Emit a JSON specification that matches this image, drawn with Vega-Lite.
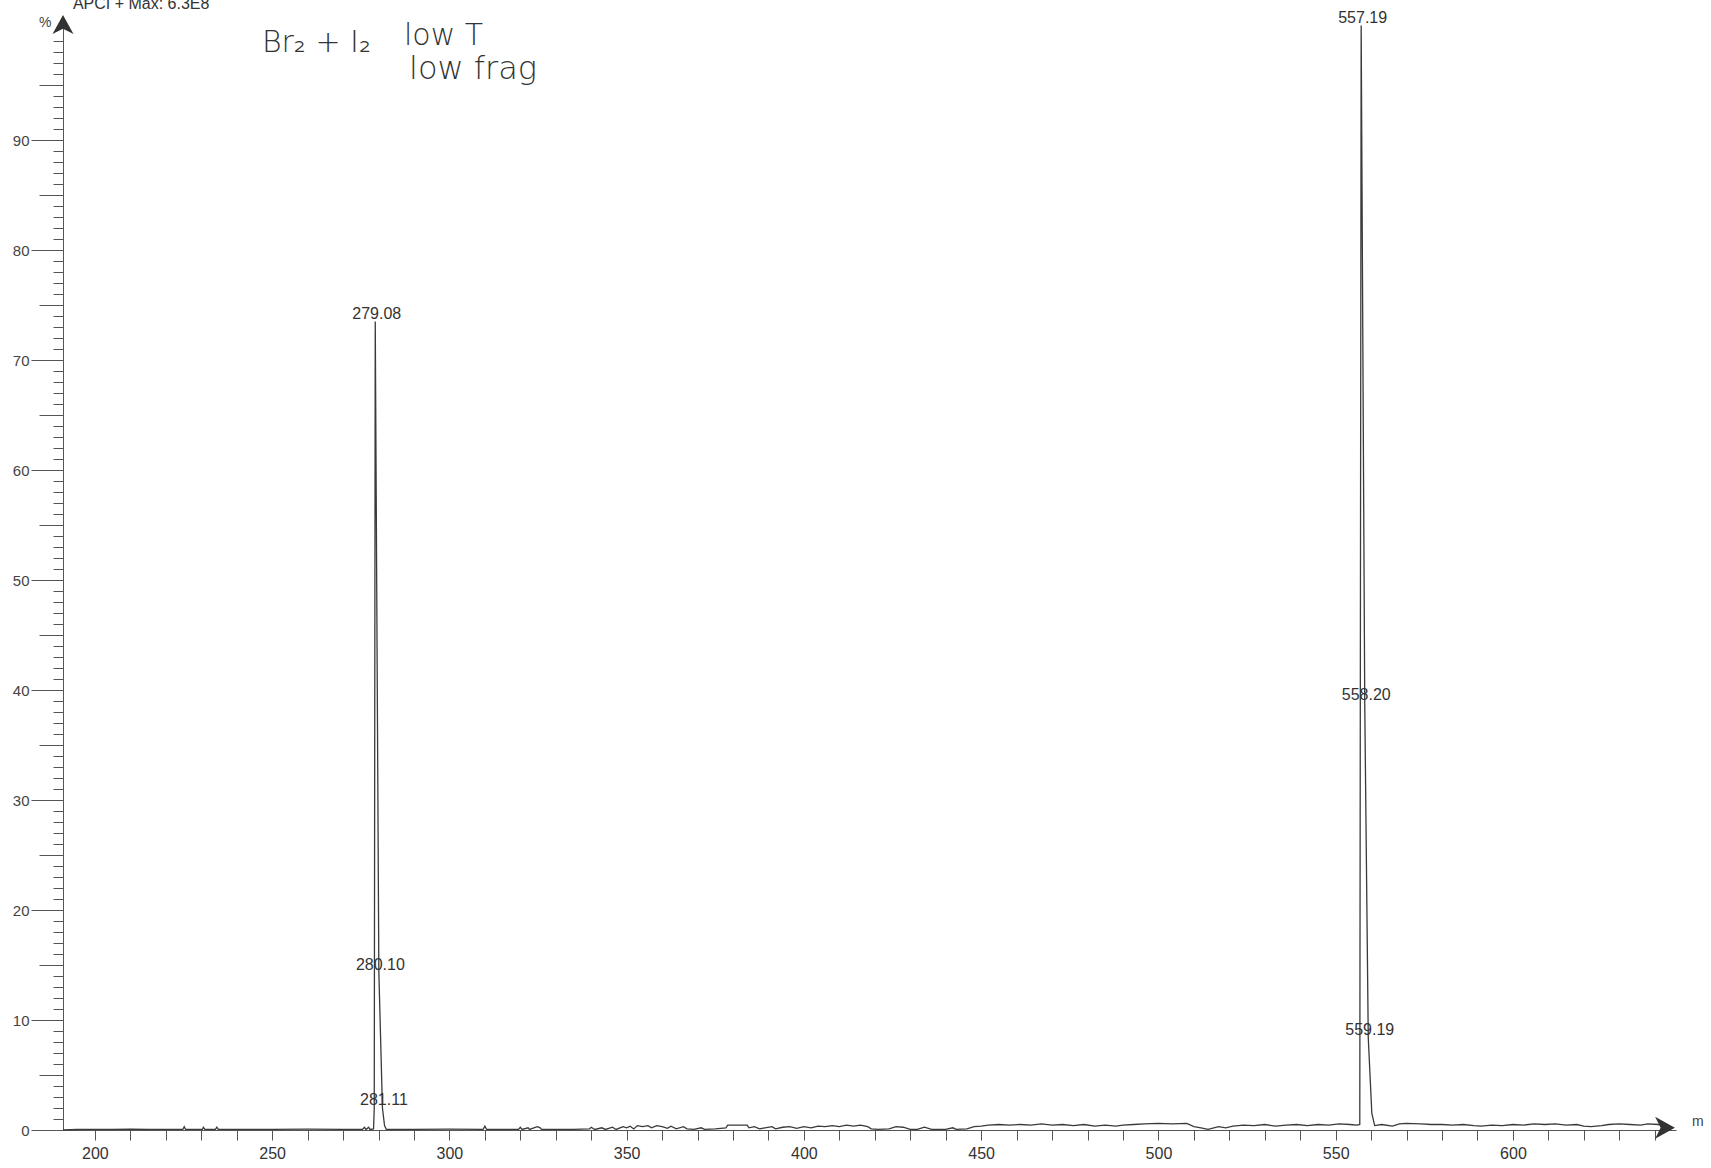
{
  "$schema": "https://vega.github.io/schema/vega-lite/v6.json",
  "width": 1613,
  "height": 1111,
  "autosize": {"type": "none"},
  "padding": {"left": 63, "top": 19, "right": 35, "bottom": 38},
  "background": "white",
  "config": {"view": {"stroke": null}, "font": "Liberation Sans"},
  "datasets": {
    "spectrum": [
      {"mz": 191, "pct": 0}, {"mz": 195, "pct": 0.05}, {"mz": 200, "pct": 0.05}, {"mz": 205, "pct": 0.05},
      {"mz": 210, "pct": 0.08}, {"mz": 215, "pct": 0.05}, {"mz": 220, "pct": 0.05}, {"mz": 224.8, "pct": 0.05},
      {"mz": 225.2, "pct": 0.3}, {"mz": 225.6, "pct": 0.05}, {"mz": 230.3, "pct": 0.05}, {"mz": 230.6, "pct": 0.25},
      {"mz": 231, "pct": 0.05}, {"mz": 234, "pct": 0.05}, {"mz": 234.4, "pct": 0.25}, {"mz": 234.8, "pct": 0.05},
      {"mz": 240, "pct": 0.05}, {"mz": 250, "pct": 0.05}, {"mz": 260, "pct": 0.08}, {"mz": 270, "pct": 0.05},
      {"mz": 275.5, "pct": 0.05}, {"mz": 276, "pct": 0.25}, {"mz": 276.5, "pct": 0.05}, {"mz": 277.2, "pct": 0.25},
      {"mz": 277.6, "pct": 0.05}, {"mz": 278.6, "pct": 0.1}, {"mz": 278.8, "pct": 2},
      {"mz": 279.08, "pct": 73.5}, {"mz": 280.1, "pct": 14.3}, {"mz": 281.11, "pct": 2.0},
      {"mz": 281.7, "pct": 0.4}, {"mz": 282.2, "pct": 0.05}, {"mz": 290, "pct": 0.05}, {"mz": 300, "pct": 0.08},
      {"mz": 309.5, "pct": 0.05}, {"mz": 310, "pct": 0.35}, {"mz": 310.5, "pct": 0.05}, {"mz": 319.5, "pct": 0.05},
      {"mz": 320, "pct": 0.25}, {"mz": 320.5, "pct": 0.05}, {"mz": 322.2, "pct": 0.2}, {"mz": 322.6, "pct": 0.05},
      {"mz": 324.8, "pct": 0.3}, {"mz": 325.6, "pct": 0.2}, {"mz": 326, "pct": 0.05}, {"mz": 335, "pct": 0.05},
      {"mz": 339.5, "pct": 0.1}, {"mz": 340, "pct": 0.25}, {"mz": 341, "pct": 0.05}, {"mz": 343, "pct": 0.2},
      {"mz": 344, "pct": 0.05}, {"mz": 346, "pct": 0.25}, {"mz": 347, "pct": 0.05}, {"mz": 349, "pct": 0.3},
      {"mz": 350, "pct": 0.2}, {"mz": 351, "pct": 0.35}, {"mz": 352, "pct": 0.1}, {"mz": 353, "pct": 0.4},
      {"mz": 354.5, "pct": 0.3}, {"mz": 356, "pct": 0.4}, {"mz": 357, "pct": 0.2}, {"mz": 358.5, "pct": 0.4},
      {"mz": 360, "pct": 0.3}, {"mz": 361.5, "pct": 0.15}, {"mz": 362.5, "pct": 0.35}, {"mz": 364, "pct": 0.1},
      {"mz": 366, "pct": 0.3}, {"mz": 367, "pct": 0.1}, {"mz": 369, "pct": 0.05}, {"mz": 371, "pct": 0.2},
      {"mz": 372, "pct": 0.05}, {"mz": 375, "pct": 0.1}, {"mz": 378, "pct": 0.2}, {"mz": 378.5, "pct": 0.45},
      {"mz": 384, "pct": 0.45}, {"mz": 384.5, "pct": 0.2}, {"mz": 386, "pct": 0.3}, {"mz": 387.5, "pct": 0.1},
      {"mz": 389, "pct": 0.2}, {"mz": 391, "pct": 0.3}, {"mz": 392, "pct": 0.1}, {"mz": 394, "pct": 0.25},
      {"mz": 396, "pct": 0.3}, {"mz": 398, "pct": 0.15}, {"mz": 400, "pct": 0.3}, {"mz": 402, "pct": 0.2},
      {"mz": 404, "pct": 0.35}, {"mz": 406, "pct": 0.3}, {"mz": 408, "pct": 0.4}, {"mz": 410, "pct": 0.3},
      {"mz": 412, "pct": 0.45}, {"mz": 414, "pct": 0.35}, {"mz": 416, "pct": 0.45}, {"mz": 418, "pct": 0.3},
      {"mz": 419, "pct": 0.1}, {"mz": 421, "pct": 0.05}, {"mz": 424, "pct": 0.1}, {"mz": 426, "pct": 0.3},
      {"mz": 428, "pct": 0.25}, {"mz": 430, "pct": 0.05}, {"mz": 432, "pct": 0.05}, {"mz": 434, "pct": 0.25},
      {"mz": 436, "pct": 0.05}, {"mz": 440, "pct": 0.05}, {"mz": 442, "pct": 0.2}, {"mz": 443, "pct": 0.05},
      {"mz": 446, "pct": 0.1}, {"mz": 448, "pct": 0.3}, {"mz": 450, "pct": 0.35}, {"mz": 452, "pct": 0.45},
      {"mz": 455, "pct": 0.5}, {"mz": 458, "pct": 0.45}, {"mz": 461, "pct": 0.5}, {"mz": 464, "pct": 0.45},
      {"mz": 467, "pct": 0.55}, {"mz": 470, "pct": 0.45}, {"mz": 473, "pct": 0.5}, {"mz": 476, "pct": 0.4},
      {"mz": 479, "pct": 0.5}, {"mz": 482, "pct": 0.35}, {"mz": 485, "pct": 0.45}, {"mz": 488, "pct": 0.35},
      {"mz": 490, "pct": 0.45}, {"mz": 493, "pct": 0.5}, {"mz": 496, "pct": 0.55}, {"mz": 500, "pct": 0.6},
      {"mz": 504, "pct": 0.55}, {"mz": 508, "pct": 0.6}, {"mz": 510, "pct": 0.3}, {"mz": 512, "pct": 0.2},
      {"mz": 514, "pct": 0.05}, {"mz": 517, "pct": 0.3}, {"mz": 519, "pct": 0.2}, {"mz": 521, "pct": 0.35},
      {"mz": 524, "pct": 0.45}, {"mz": 527, "pct": 0.4}, {"mz": 530, "pct": 0.5}, {"mz": 533, "pct": 0.35},
      {"mz": 536, "pct": 0.45}, {"mz": 539, "pct": 0.5}, {"mz": 542, "pct": 0.4}, {"mz": 545, "pct": 0.5},
      {"mz": 548, "pct": 0.45}, {"mz": 551, "pct": 0.55}, {"mz": 554, "pct": 0.5}, {"mz": 556, "pct": 0.45},
      {"mz": 556.8, "pct": 0.5}, {"mz": 557.19, "pct": 100.4}, {"mz": 558.2, "pct": 38.8}, {"mz": 559.19, "pct": 8.4},
      {"mz": 560.2, "pct": 1.5}, {"mz": 561, "pct": 0.4}, {"mz": 563, "pct": 0.5}, {"mz": 566, "pct": 0.35},
      {"mz": 568, "pct": 0.55}, {"mz": 570, "pct": 0.6}, {"mz": 574, "pct": 0.55}, {"mz": 577, "pct": 0.5},
      {"mz": 580, "pct": 0.5}, {"mz": 583, "pct": 0.45}, {"mz": 586, "pct": 0.5}, {"mz": 589, "pct": 0.4},
      {"mz": 591, "pct": 0.35}, {"mz": 594, "pct": 0.45}, {"mz": 597, "pct": 0.4}, {"mz": 600, "pct": 0.5},
      {"mz": 603, "pct": 0.45}, {"mz": 606, "pct": 0.55}, {"mz": 609, "pct": 0.5}, {"mz": 612, "pct": 0.55},
      {"mz": 615, "pct": 0.45}, {"mz": 618, "pct": 0.5}, {"mz": 620, "pct": 0.35}, {"mz": 622, "pct": 0.3},
      {"mz": 625, "pct": 0.4}, {"mz": 627, "pct": 0.5}, {"mz": 630, "pct": 0.55}, {"mz": 633, "pct": 0.5},
      {"mz": 636, "pct": 0.45}, {"mz": 638, "pct": 0.55}, {"mz": 641, "pct": 0.5}, {"mz": 643, "pct": 0.45}
    ],
    "peaks": [
      {"mz": 279.08, "pct": 73.5, "label": "279.08"},
      {"mz": 280.1, "pct": 14.3, "label": "280.10"},
      {"mz": 281.11, "pct": 2.0, "label": "281.11"},
      {"mz": 557.19, "pct": 100.4, "label": "557.19"},
      {"mz": 558.2, "pct": 38.8, "label": "558.20"},
      {"mz": 559.19, "pct": 8.4, "label": "559.19"}
    ]
  },
  "layer": [
    {
      "data": {"name": "spectrum"},
      "mark": {"type": "line", "color": "#3a3a3a", "strokeWidth": 1.3},
      "encoding": {
        "x": {
          "field": "mz", "type": "quantitative",
          "scale": {"domain": [191, 646], "nice": false, "zero": false},
          "axis": {
            "values": [200, 210, 220, 230, 240, 250, 260, 270, 280, 290, 300, 310, 320, 330, 340, 350, 360, 370, 380, 390, 400, 410, 420, 430, 440, 450, 460, 470, 480, 490, 500, 510, 520, 530, 540, 550, 560, 570, 580, 590, 600, 610, 620, 630, 640],
            "tickCount": 200, "format": "d",
            "tickSize": 10, "tickColor": "#555", "domainColor": "#555",
            "labelExpr": "datum.value % 50 === 0 ? datum.label : ''",
            "labelFontSize": 16, "labelColor": "#333", "labelPadding": 5,
            "labelOverlap": false, "labelFlush": false, "grid": false, "title": null
          }
        },
        "y": {
          "field": "pct", "type": "quantitative",
          "scale": {"domain": [0, 101], "nice": false, "zero": true},
          "axis": {
            "values": [0,1,2,3,4,5,6,7,8,9,10,11,12,13,14,15,16,17,18,19,20,21,22,23,24,25,26,27,28,29,30,31,32,33,34,35,36,37,38,39,40,41,42,43,44,45,46,47,48,49,50,51,52,53,54,55,56,57,58,59,60,61,62,63,64,65,66,67,68,69,70,71,72,73,74,75,76,77,78,79,80,81,82,83,84,85,86,87,88,89,90,91,92,93,94,95,96,97,98,99],
            "tickCount": 300, "format": "d",
            "tickSize": {"condition": [{"test": "datum.value % 10 === 0", "value": 32}, {"test": "datum.value % 5 === 0", "value": 24}], "value": 10},
            "tickColor": "#555", "domainColor": "#555",
            "labelExpr": "datum.value % 10 === 0 ? datum.label : ''",
            "labelFontSize": 15, "labelColor": "#444", "labelPadding": 2,
            "labelOverlap": false, "labelFlush": false, "grid": false, "title": null
          }
        }
      }
    },
    {
      "data": {"name": "peaks"},
      "mark": {"type": "text", "font": "Liberation Sans", "fontSize": 16, "color": "#333", "baseline": "alphabetic", "align": "center", "dy": -3, "dx": 1.5},
      "encoding": {
        "x": {"field": "mz", "type": "quantitative"},
        "y": {"field": "pct", "type": "quantitative"},
        "text": {"field": "label"}
      }
    },
    {
      "data": {"values": [{}]},
      "mark": {"type": "point", "shape": "M0,-0.9L1,0.9L0,0.4L-1,0.9Z", "filled": true, "color": "#333", "opacity": 1, "size": 441},
      "encoding": {
        "x": {"datum": 191, "type": "quantitative"},
        "y": {"datum": 100.5, "type": "quantitative"}
      }
    },
    {
      "data": {"values": [{}]},
      "mark": {"type": "point", "shape": "M0.9,0L-0.9,1L-0.4,0L-0.9,-1Z", "filled": true, "color": "#333", "opacity": 1, "size": 484},
      "encoding": {
        "x": {"datum": 642.9, "type": "quantitative"},
        "y": {"datum": 0.2, "type": "quantitative"}
      }
    },
    {
      "data": {"values": [{}]},
      "mark": {"type": "text", "text": "%", "font": "Liberation Sans", "fontSize": 14, "color": "#444", "align": "center", "baseline": "middle"},
      "encoding": {
        "x": {"datum": 186, "type": "quantitative"},
        "y": {"datum": 100.6, "type": "quantitative"}
      }
    },
    {
      "data": {"values": [{}]},
      "mark": {"type": "text", "text": "m", "font": "Liberation Sans", "fontSize": 14, "color": "#444", "align": "left", "baseline": "alphabetic"},
      "encoding": {
        "x": {"datum": 650.5, "type": "quantitative"},
        "y": {"datum": 0.4, "type": "quantitative"}
      }
    },
    {
      "data": {"values": [{}]},
      "mark": {"type": "text", "text": "APCI + Max: 6.3E8", "font": "Liberation Sans", "fontSize": 16, "color": "#333", "align": "left", "baseline": "alphabetic"},
      "encoding": {
        "x": {"datum": 193.8, "type": "quantitative"},
        "y": {"datum": 101.95, "type": "quantitative"}
      }
    },
    {
      "data": {"values": [{}]},
      "mark": {"type": "text", "text": "Br₂ + I₂", "font": "DejaVu Sans", "fontWeight": 200, "fontSize": 30, "color": "#333", "align": "left", "baseline": "middle"},
      "encoding": {
        "x": {"datum": 247.1, "type": "quantitative"},
        "y": {"datum": 98.8, "type": "quantitative"}
      }
    },
    {
      "data": {"values": [{}]},
      "mark": {"type": "text", "text": "low T", "font": "DejaVu Sans", "fontWeight": 200, "fontSize": 30, "color": "#333", "align": "left", "baseline": "middle"},
      "encoding": {
        "x": {"datum": 287.2, "type": "quantitative"},
        "y": {"datum": 99.5, "type": "quantitative"}
      }
    },
    {
      "data": {"values": [{}]},
      "mark": {"type": "text", "text": "low frag", "font": "DejaVu Sans", "fontWeight": 200, "fontSize": 32, "color": "#333", "align": "left", "baseline": "middle"},
      "encoding": {
        "x": {"datum": 288.6, "type": "quantitative"},
        "y": {"datum": 96.5, "type": "quantitative"}
      }
    }
  ]
}
